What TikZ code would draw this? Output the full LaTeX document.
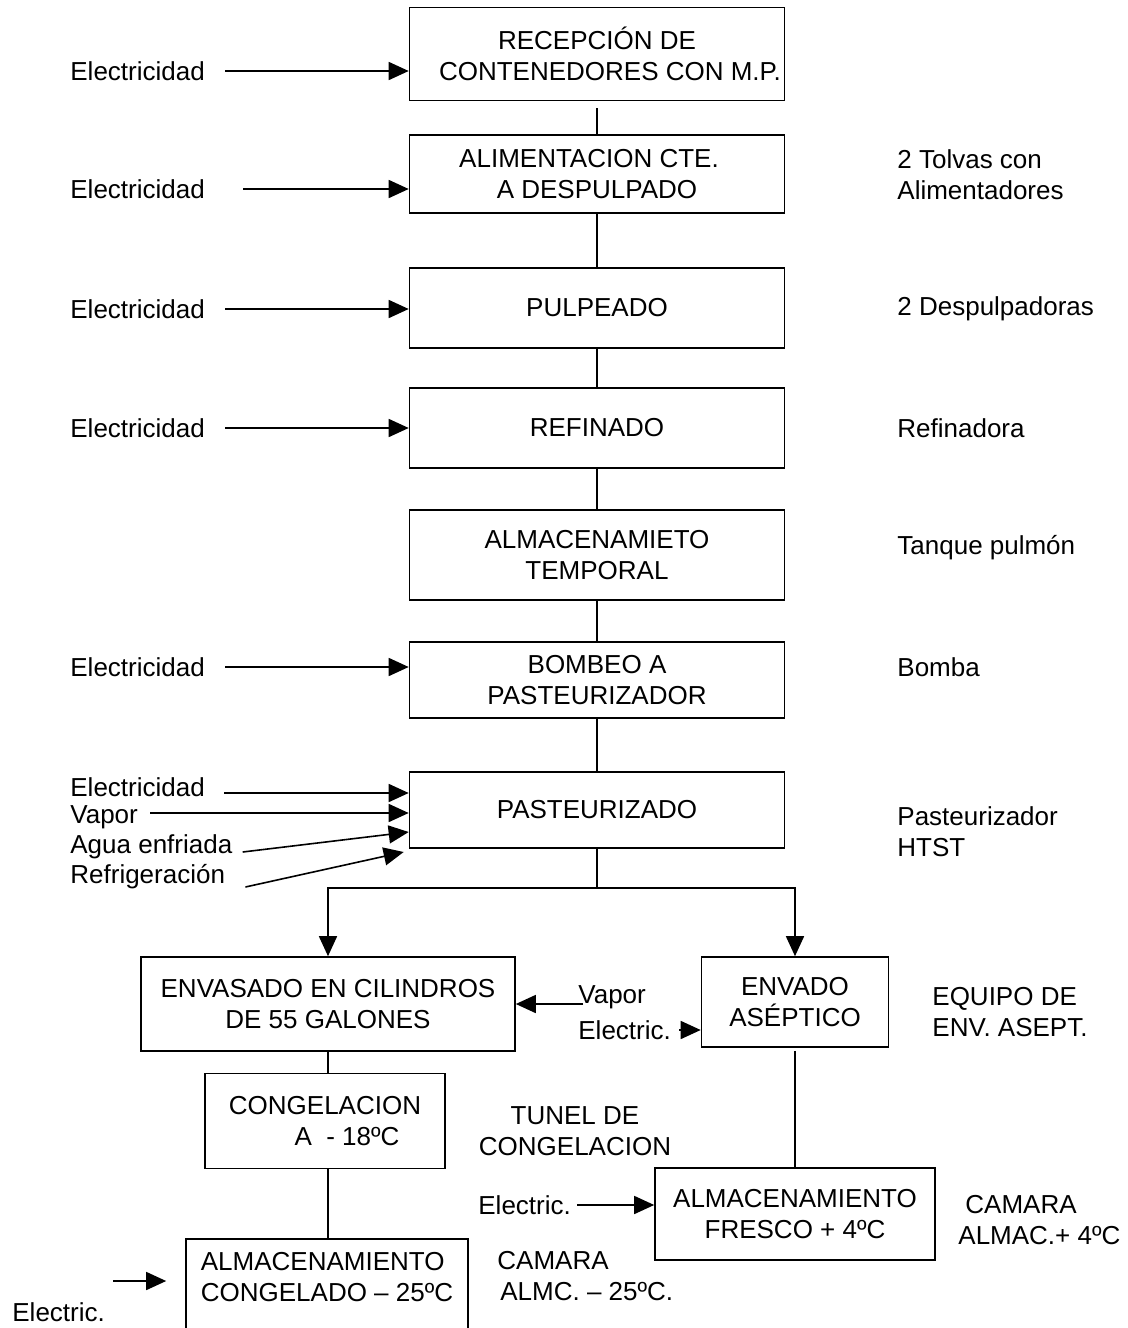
\documentclass[tikz,border=0pt]{standalone}
\usepackage{fontspec}
\setmainfont{Liberation Sans}
\usetikzlibrary{positioning, arrows.meta, calc}

\begin{document}
\begin{tikzpicture}[x=0.5pt, y=-0.5pt, font=\fontsize{13}{15.5}\selectfont,
    caja/.style={draw, line width=0.8pt, align=center, inner sep=0pt},
    lbl/.style={anchor=west, align=left, inner sep=0pt},
    linea/.style={line width=0.8pt},
    flecha/.style={line width=0.8pt, -{Triangle[length=10pt, width=9pt]}}]
    \useasboundingbox (0,0) rectangle (1128,1328);
    % etapas del proceso
    \node[caja, minimum width=187.5pt, minimum height=46.5pt] (rec) at (597,54) {RECEPCIÓN DE\\\hspace*{13pt}CONTENEDORES CON M.P.};
    \node[caja, minimum width=187.5pt, minimum height=39pt] (ali) at (597,174) {ALIMENTACION CTE.\hspace*{8pt}\\A DESPULPADO};
    \node[caja, minimum width=187.5pt, minimum height=40pt] (pul) at (597,308) {PULPEADO};
    \node[caja, minimum width=187.5pt, minimum height=40pt] (ref) at (597,428) {REFINADO};
    \node[caja, minimum width=187.5pt, minimum height=45pt] (alm) at (597,555) {ALMACENAMIETO\\TEMPORAL};
    \node[caja, minimum width=187.5pt, minimum height=38pt] (bom) at (597,680) {BOMBEO A\\PASTEURIZADOR};
    \node[caja, minimum width=187.5pt, minimum height=38pt] (pas) at (597,810) {PASTEURIZADO};
    \node[caja, minimum width=187pt, minimum height=47pt] (env) at (328,1004) {ENVASADO EN CILINDROS\\DE 55 GALONES};
    \node[caja, minimum width=93.5pt, minimum height=45pt] (ase) at (795,1002) {ENVADO\\ASÉPTICO};
    \node[caja, minimum width=120pt, minimum height=47.5pt] (con) at (325,1121) {CONGELACION\\\hspace*{22pt}A \ - 18ºC};
    \node[caja, minimum width=140pt, minimum height=46pt] (afr) at (795,1214) {ALMACENAMIENTO\\FRESCO + 4ºC};
    \node[caja, align=left, anchor=north, minimum width=141pt, inner ysep=7pt] (acg) at (327,1238) {ALMACENAMIENTO\\CONGELADO -- 25ºC\\~};
    % flujo principal
    \draw[linea] ($(rec.south)+(0,7)$) -- (ali.north);
    \foreach \a/\b in {ali/pul, pul/ref, ref/alm, alm/bom, bom/pas}
      \draw[linea] (\a.south) -- (\b.north);
    \coordinate (bif) at ($(pas.south)+(0,39)$);
    \draw[linea] (pas.south) -- (bif);
    \draw[flecha] (bif) -| (env.north);
    \draw[flecha] (bif) -| (ase.north);
    \draw[linea] ($(ase.south)+(0,3)$) -- (afr.north);
    \draw[linea] (env.south) -- (env.south |- con.north);
    \draw[linea] (env.south |- con.south) -- (env.south |- acg.north);
    % entradas de electricidad
    \foreach \c/\y/\dx in {rec/71/20, ali/189/38, pul/309/20, ref/428/20, bom/667/20} {
      \node[lbl] (el-\c) at (70,\y) {Electricidad};
      \draw[flecha] ($(el-\c.east)+(\dx,0)$) -- (\c.west |- el-\c.east);
    }
    % entradas al pasteurizador
    \node[lbl] (el-pas) at (70,787) {Electricidad};
    \node[lbl] (vap) at (70,817) {Vapor};
    \node[lbl] (agu) at (70,847) {Agua enfriada};
    \node[lbl] (rfg) at (70,877) {Refrigeración};
    \draw[flecha] ($(el-pas.east)+(19,6)$) -- ($(pas.west)+(0,-17)$);
    \draw[flecha] ($(vap.east)+(12,-4)$) -- ($(pas.west)+(0,3)$);
    \draw[flecha] ($(agu.east)+(10,5)$) -- ($(pas.west)+(0,22)$);
    \draw[flecha] ($(rfg.east)+(20,10)$) -- ($(pas.west)+(-5,42)$);
    % entradas a envasado y almacenamiento
    \node[lbl] (vap-env) at (578,997) {Vapor};
    \node[lbl] (el-ase) at (578,1030) {Electric.};
    \draw[flecha] ($(vap-env.west)+(5,7)$) -- (env.east);
    \draw[flecha] ($(el-ase.east)+(8,0)$) -- (ase.west |- el-ase.east);
    \node[lbl] (el-afr) at (478,1205) {Electric.};
    \draw[flecha] ($(el-afr.east)+(6,0)$) -- (afr.west |- el-afr.east);
    \node[lbl] (el-acg) at (12,1312) {Electric.};
    \draw[flecha] ($(el-acg.east)+(8,-31)$) -- ($(acg.north west)+(-19,43)$);
    % equipos
    \node[lbl] (eq-ali) at (897,175) {2 Tolvas con\\Alimentadores};
    \node[lbl] (eq-pul) at (897,309) {2 Despulpadoras};
    \node[lbl] (eq-ref) at (897,428) {Refinadora};
    \node[lbl] (eq-alm) at (897,548) {Tanque pulmón};
    \node[lbl] (eq-bom) at (897,667) {Bomba};
    \node[lbl] (eq-pas) at (897,832) {Pasteurizador\\HTST};
    \node[lbl] (eq-ase) at (932,1012) {EQUIPO DE\\ENV. ASEPT.};
    \node[inner sep=0pt, align=center] (eq-con) at (575,1131) {TUNEL DE\\CONGELACION};
    \node[lbl] (eq-afr) at (958,1220) {\hspace*{3.5pt}CAMARA\\ALMAC.+ 4ºC};
    \node[lbl] (eq-acg) at (497,1276) {CAMARA\\\hspace*{1.5pt}ALMC. -- 25ºC.};
\end{tikzpicture}
\end{document}
